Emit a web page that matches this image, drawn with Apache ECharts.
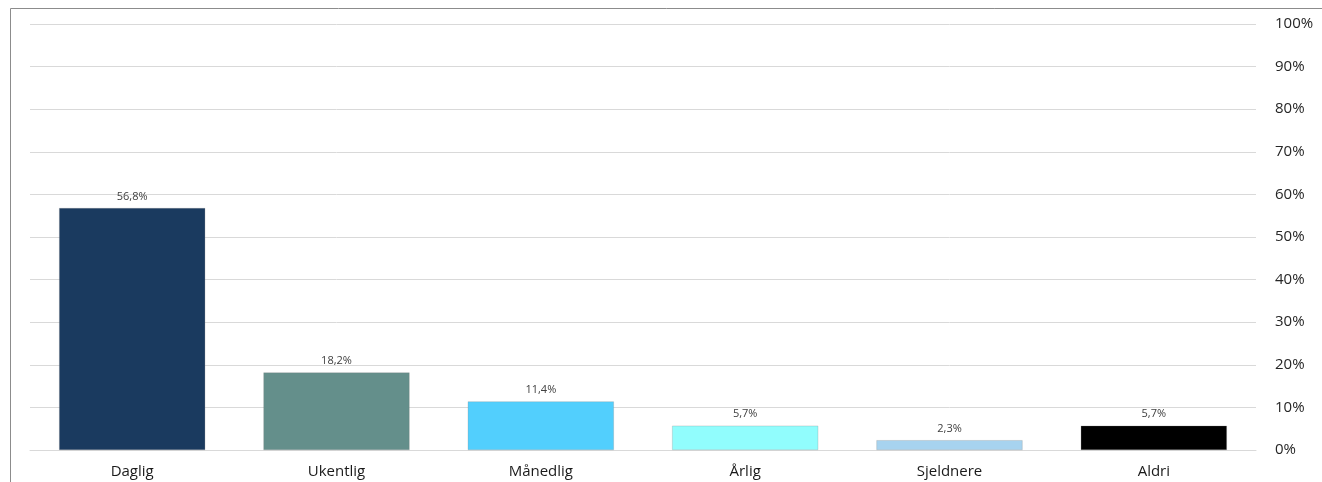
<!DOCTYPE html>
<html>
<head>
<meta charset="utf-8">
<script src="https://cdn.jsdelivr.net/npm/echarts@6/dist/echarts.min.js"></script>
<style>
html, body { margin: 0; padding: 0; background: #fff; }
#chart_1 { width: 1322px; height: 482px; }
</style>
</head>
<body>
<div id="chart_1"></div>
<script>
// kategorier og verdier (prosent)
var categories = ['Daglig', 'Ukentlig', 'Månedlig', 'Årlig', 'Sjeldnere', 'Aldri'];
var values = [56.8, 18.2, 11.4, 5.7, 2.3, 5.7];
var barColors = ['#1a3a5f', '#648f8b', '#52cffd', '#91fdfd', '#a7d3ef', '#000000'];
var yTicks = [0, 10, 20, 30, 40, 50, 60, 70, 80, 90, 100];

function fmtPct(v) {
	return v.toFixed(1).replace('.', ',') + '%';
}

var barData = [];
for (var i = 0; i < values.length; i++) {
	barData.push({
		value: values[i],
		itemStyle: { color: barColors[i] }
	});
}

var option = {
	animation: false,
	textStyle: { fontFamily: 'Open Sans, DejaVu Sans, sans-serif' },
	graphic: [{
		type: 'rect',
		shape: { x: 10.5, y: 8.5, width: 1330, height: 500 },
		style: { fill: 'none', stroke: '#8c8c8c', lineWidth: 1 },
		silent: true
	}],
	grid: {
		left: 30,
		right: 66,
		top: 24,
		bottom: 32
	},
	xAxis: {
		type: 'category',
		data: categories,
		axisLine: { show: true, lineStyle: { color: '#d9d9d9' } },
		axisTick: { show: false },
		axisLabel: { color: '#1a1a1a', fontSize: 15, margin: 14 }
	},
	yAxis: {
		type: 'value',
		position: 'right',
		min: yTicks[0],
		max: yTicks[yTicks.length - 1],
		interval: 10,
		axisLine: { show: false },
		axisTick: { show: false },
		splitLine: { lineStyle: { color: '#d9d9d9', width: 1 } },
		axisLabel: {
			color: '#262626',
			fontSize: 15,
			margin: 19,
			formatter: function (v) { return v + '%'; }
		}
	},
	series: [{
		type: 'bar',
		data: barData,
		barCategoryGap: '28.5%',
		itemStyle: { borderColor: 'rgba(128,128,128,0.5)', borderWidth: 0.5 },
		label: {
			show: true,
			position: 'top',
			distance: 6,
			color: '#404040',
			fontSize: 11,
			formatter: function (p) { return fmtPct(p.value); }
		}
	}]
};

var myChart = echarts.init(document.getElementById('chart_1'));
myChart.setOption(option);
</script>
</body>
</html>
